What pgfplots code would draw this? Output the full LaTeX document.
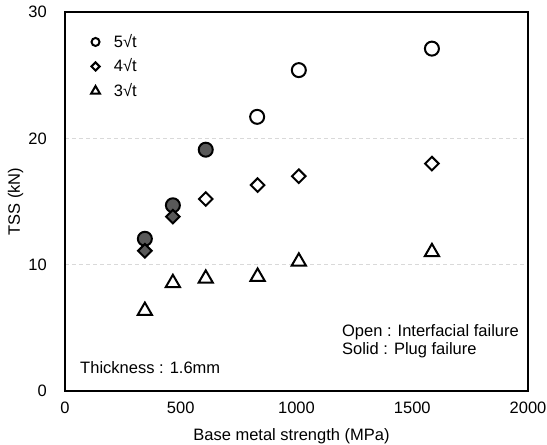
\documentclass[border=0pt]{standalone}
\usepackage{fontspec}
\setmainfont{Liberation Sans}
\usepackage{pgfplots}
\pgfplotsset{compat=1.18}
\usetikzlibrary{calc}
\definecolor{solidfill}{HTML}{595959}
\definecolor{gridgray}{HTML}{D9D9D9}

\begin{document}
\fontsize{16.5}{19}\selectfont
\begin{tikzpicture}
\begin{axis}[
  name=ax,
  scale only axis, width=463pt, height=379pt,
  xmin=0, xmax=2000, ymin=0, ymax=30,
  xtick={0,500,1000,1500,2000}, ytick={0,10,20,30},
  major tick length=0pt,
  axis line style={line width=1.6pt},
  ymajorgrids,
  grid style={gridgray, line width=0.9pt, dash pattern=on 4pt off 3pt},
  /pgf/number format/assume math mode=true,
  /pgf/number format/set thousands separator={},
  ticklabel style={font=\fontsize{16.5}{19}\selectfont},
  xticklabel style={yshift=-5.5pt},
  yticklabel style={xshift=-12.5pt},
  xlabel={Base metal strength (MPa)},
  ylabel={TSS (kN)},
  every axis x label/.style={at={([xshift=-5pt,yshift=-50pt]axis description cs:0.5,0)}, anchor=base},
  every axis y label/.style={at={([xshift=-49.5pt]axis description cs:0,0.5)}, rotate=90, anchor=center},
  legend style={at={([xshift=23pt,yshift=-18pt]axis description cs:0,1)}, anchor=north west,
    draw=none, fill=none, font=\fontsize{16.5}{19}\selectfont, row sep=5pt,
    /tikz/every odd column/.append style={column sep=12pt}},
  legend cell align=left,
  clip=false,
]
% open circles: interfacial failure
\addplot[only marks, mark=*, draw=black, fill=white, line width=2pt, mark size=7pt,
  legend image post style={mark size=4pt}]
  coordinates {(830,21.7) (1010,25.4) (1585,27.1)};
\addlegendentry{5√t}
% open diamonds
\addplot[only marks, mark=square*, mark options={rotate=45}, draw=black, fill=white, line width=2pt, mark size=4.8pt,
  legend image post style={mark size=2.9pt}]
  coordinates {(608,15.2) (832,16.3) (1010,17.0) (1585,18.0)};
\addlegendentry{4√t}
% open triangles
\addplot[only marks, mark=triangle*, draw=black, fill=white, line width=2pt, mark size=8.2pt,
  legend image post style={mark size=5pt}]
  coordinates {(345,6.35) (466,8.55) (608,8.9) (832,9.05) (1010,10.25) (1585,11.0)};
\addlegendentry{3√t}
% solid circles: plug failure
\addplot[only marks, mark=*, draw=black, fill=solidfill, line width=2pt, mark size=7pt, forget plot]
  coordinates {(345,12.05) (466,14.7) (608,19.1)};
% solid diamonds
\addplot[only marks, mark=square*, mark options={rotate=45}, draw=black, fill=solidfill, line width=2pt, mark size=4.8pt, forget plot]
  coordinates {(345,11.1) (466,13.8)};

\node[anchor=base west, inner sep=0pt] at (axis cs:65,1.35) {Thickness : 1.6mm};
\node[anchor=base west, align=left, inner sep=0pt] at (axis cs:1196,2.85)
  {Open : Interfacial failure\\[-0.5pt]Solid : Plug failure};
\end{axis}
\pgfresetboundingbox
\path ($(ax.south west)+(-65pt,-54pt)$) rectangle ($(ax.north east)+(19pt,12pt)$);
\end{tikzpicture}
\end{document}
